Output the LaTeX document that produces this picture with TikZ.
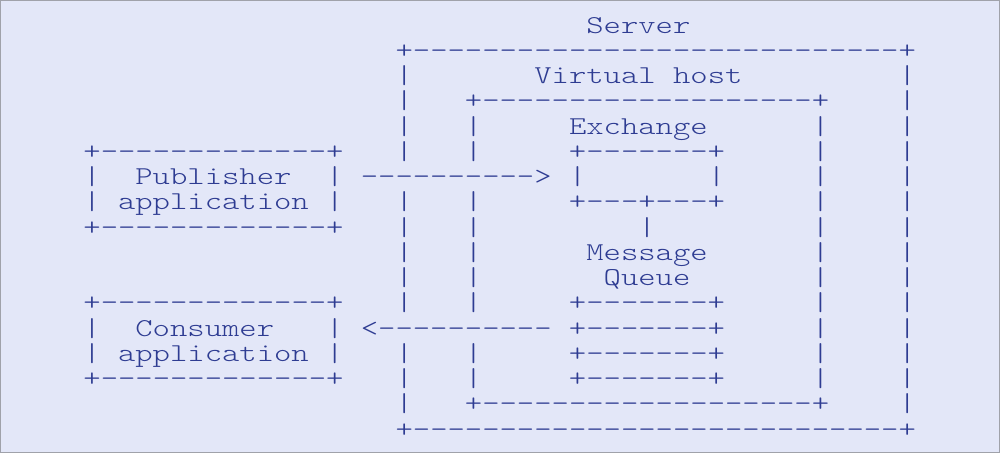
\documentclass[tikz,border=0pt]{standalone}
\usepackage{graphicx}
\usetikzlibrary{positioning}

\definecolor{panelbg}{RGB}{227,231,248}
\definecolor{panelframe}{RGB}{160,162,170}
\definecolor{asciiblue}{RGB}{46,60,146}

% one character cell of the light typewriter face at 19.3pt
\newlength{\cw}
\setlength{\cw}{10.1325pt}
\newcommand*{\asciifont}{\ttfamily\fontseries{l}\fontsize{19.3pt}{20pt}\selectfont}
\newcommand*{\sk}[1]{\hspace*{#1\cw}}
\newcommand*{\dsh}[1]{\foreach \k in {1,...,#1}{-\kern0pt}}
\newcommand*{\asc}[1]{\scalebox{1.2842}[1]{#1}}

\begin{document}
\begin{tikzpicture}[x=0.75pt, y=-0.75pt,
    row/.style={font=\asciifont, text=asciiblue, inner sep=0pt, anchor=base west}]
\fill[panelbg] (0,0) rectangle (1000,453);
\draw[panelframe, line width=1pt] (0.5,0.5) rectangle (999.5,452.5);
\useasboundingbox (0,0) rectangle (1000,453);

\node[row] (L0) at (83,33.00) {\asc{\sk{29}Server}};
\node[row] (L1) at (83,58.25) {\asc{\sk{18}+\dsh{28}+}};
\node[row] (L2) at (83,83.50) {\asc{\sk{18}|\sk{7}Virtual\sk{1}host\sk{9}|}};
\node[row] (L3) at (83,108.75) {\asc{\sk{18}|\sk{3}+\dsh{19}+\sk{4}|}};
\node[row] (L4) at (83,134.00) {\asc{\sk{18}|\sk{3}|\sk{5}Exchange\sk{6}|\sk{4}|}};
\node[row] (L5) at (83,159.25) {\asc{+\dsh{13}+\sk{3}|\sk{3}|\sk{5}+\dsh{7}+\sk{5}|\sk{4}|}};
\node[row] (L6) at (83,184.50) {\asc{|\sk{2}Publisher\sk{2}|\sk{1}\dsh{10}>\sk{1}|\sk{7}|\sk{5}|\sk{4}|}};
\node[row] (L7) at (83,209.75) {\asc{|\sk{1}application\sk{1}|\sk{3}|\sk{3}|\sk{5}+\dsh{3}+\dsh{3}+\sk{5}|\sk{4}|}};
\node[row] (L8) at (83,235.00) {\asc{+\dsh{13}+\sk{3}|\sk{3}|\sk{9}|\sk{9}|\sk{4}|}};
\node[row] (L9) at (83,260.25) {\asc{\sk{18}|\sk{3}|\sk{6}Message\sk{6}|\sk{4}|}};
\node[row] (L10) at (83,285.50) {\asc{\sk{18}|\sk{3}|\sk{7}Queue\sk{7}|\sk{4}|}};
\node[row] (L11) at (83,310.75) {\asc{+\dsh{13}+\sk{3}|\sk{3}|\sk{5}+\dsh{7}+\sk{5}|\sk{4}|}};
\node[row] (L12) at (83,336.00) {\asc{|\sk{2}Consumer\sk{3}|\sk{1}<\dsh{10}\sk{1}+\dsh{7}+\sk{5}|\sk{4}|}};
\node[row] (L13) at (83,361.25) {\asc{|\sk{1}application\sk{1}|\sk{3}|\sk{3}|\sk{5}+\dsh{7}+\sk{5}|\sk{4}|}};
\node[row] (L14) at (83,386.50) {\asc{+\dsh{13}+\sk{3}|\sk{3}|\sk{5}+\dsh{7}+\sk{5}|\sk{4}|}};
\node[row] (L15) at (83,411.75) {\asc{\sk{18}|\sk{3}+\dsh{19}+\sk{4}|}};
\node[row] (L16) at (83,437.00) {\asc{\sk{18}+\dsh{28}+}};
\end{tikzpicture}
\end{document}
